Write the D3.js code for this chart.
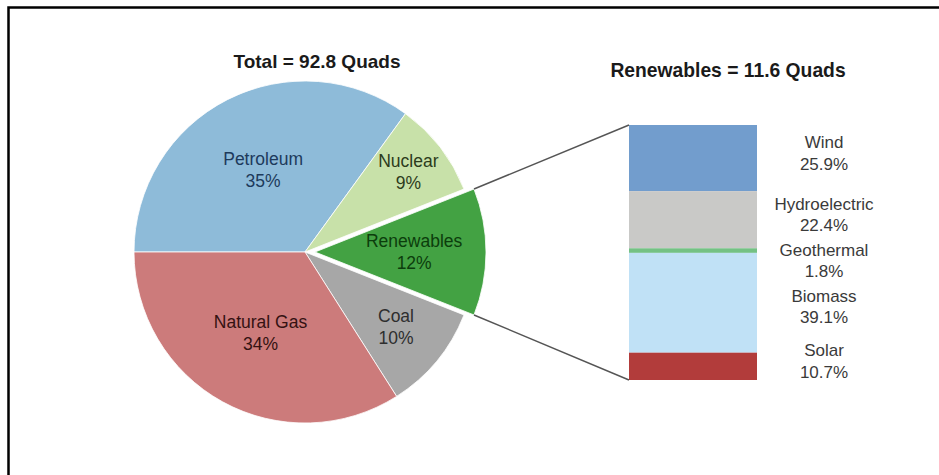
<!DOCTYPE html>
<html>
<head>
<meta charset="utf-8">
<script src="https://cdn.jsdelivr.net/npm/d3@7"></script>
<style>
  html, body { margin: 0; padding: 0; background: #fff; }
  svg { display: block; }
  text { font-family: "Liberation Sans", Arial, sans-serif; }
</style>
</head>
<body>
<svg id="chart" width="939" height="475"></svg>
<script>
// Primary energy consumption by source (share of total, %)
const sources = ["Petroleum", "Nuclear", "Renewables", "Coal", "Natural Gas"];
const sourceShares = [35, 9, 12, 10, 34];
const totalQuads = 92.8;

// Breakdown of the renewables slice (share of renewables, %)
const renewables = ["Wind", "Hydroelectric", "Geothermal", "Biomass", "Solar"];
const renewableShares = [25.9, 22.4, 1.8, 39.1, 10.7];
const renewableQuads = 11.6;

const pieColors = {
  "Petroleum": "#8ebbd9",
  "Nuclear": "#c8e1a9",
  "Renewables": "#43a243",
  "Coal": "#a7a7a7",
  "Natural Gas": "#cc7b7b"
};
const pieTextColors = {
  "Petroleum": "#1d3a5c",
  "Nuclear": "#2c3b1c",
  "Renewables": "#0c3d0c",
  "Coal": "#2e2e2e",
  "Natural Gas": "#341212"
};
const barColors = {
  "Wind": "#729dcd",
  "Hydroelectric": "#c9c9c7",
  "Geothermal": "#74c184",
  "Biomass": "#c0e1f6",
  "Solar": "#b23c3b"
};

const svg = d3.select("#chart");

// Frame
svg.append("path")
  .attr("d", "M8.5,475V7.5H939")
  .attr("fill", "none")
  .attr("stroke", "#000")
  .attr("stroke-width", 2.5);

// ---- Pie ----
const cx = 305, cy = 252, radius = 171, explode = 10;
const pieData = sources.map((s, i) => ({ name: s, value: sourceShares[i] }));

const pie = d3.pie()
  .sort(null)
  .value(d => d.value)
  .startAngle(-Math.PI / 2)
  .endAngle(1.5 * Math.PI);

const arc = d3.arc().innerRadius(0).outerRadius(radius);
const arcs = pie(pieData);

function offsetOf(a) {
  if (a.data.name !== "Renewables") return [0, 0];
  const m = (a.startAngle + a.endAngle) / 2;
  return [explode * Math.sin(m), -explode * Math.cos(m)];
}

const pieG = svg.append("g").attr("transform", `translate(${cx},${cy})`);

pieG.selectAll("path.slice")
  .data(arcs)
  .join("path")
  .attr("class", "slice")
  .attr("transform", d => `translate(${offsetOf(d)})`)
  .attr("d", arc)
  .attr("fill", d => pieColors[d.data.name])
  .attr("stroke", "#fff")
  .attr("stroke-width", 0.8);

// Labels: pushed out from the centre until the two-line block fits between the wedge edges
const labelFont = 17.5, lineGap = 22;
pieG.selectAll("text.slice-label")
  .data(arcs)
  .join("text")
  .attr("class", "slice-label")
  .attr("text-anchor", "middle")
  .attr("font-size", labelFont)
  .attr("fill", d => pieTextColors[d.data.name])
  .each(function (d) {
    const m = (d.startAngle + d.endAngle) / 2;
    const half = (d.endAngle - d.startAngle) / 2;
    const rho = Math.max(0.54 * radius, 36.5 / Math.sin(Math.min(half, Math.PI / 2)));
    const [ox, oy] = offsetOf(d);
    const x = ox + rho * Math.sin(m);
    const y = oy - rho * Math.cos(m);
    const t = d3.select(this);
    t.append("tspan").attr("x", x).attr("y", y - 5).text(d.data.name);
    t.append("tspan").attr("x", x).attr("y", y - 5 + lineGap).text(d.data.value + "%");
  });

svg.append("text")
  .attr("x", 317).attr("y", 68)
  .attr("text-anchor", "middle")
  .attr("font-size", 19)
  .attr("font-weight", "bold")
  .attr("fill", "#1a1a1a")
  .text(`Total = ${totalQuads} Quads`);

// ---- Renewables stacked bar ----
const barX = 629, barW = 128, barTop = 125, barBottom = 380;
let acc = 0;
const barData = renewables.map((n, i) => {
  const d = { name: n, value: renewableShares[i], y0: acc, y1: acc + renewableShares[i] };
  acc += renewableShares[i];
  return d;
});
const y = d3.scaleLinear().domain([0, acc]).range([barTop, barBottom]);

svg.selectAll("rect.seg")
  .data(barData)
  .join("rect")
  .attr("class", "seg")
  .attr("x", barX)
  .attr("width", barW)
  .attr("y", d => y(d.y0))
  .attr("height", d => y(d.y1) - y(d.y0))
  .attr("fill", d => barColors[d.name]);

// Connector lines from the exploded slice to the bar
const ren = arcs.find(a => a.data.name === "Renewables");
const [rox, roy] = offsetOf(ren);
const pTop = [cx + rox + radius * Math.sin(ren.startAngle), cy + roy - radius * Math.cos(ren.startAngle)];
const pBot = [cx + rox + radius * Math.sin(ren.endAngle), cy + roy - radius * Math.cos(ren.endAngle)];
svg.append("path")
  .attr("d", `M${pTop}L${barX},${y(0)}M${pBot}L${barX},${y(acc)}`)
  .attr("fill", "none")
  .attr("stroke", "#555")
  .attr("stroke-width", 1.5);

// Bar labels: near their segment's middle, pushed downward where blocks would collide
const minSep = 46;
const centers = barData.map(d => (y(d.y0) + y(d.y1)) / 2 - 5);
for (let i = 1; i < centers.length; i++) {
  centers[i] = Math.max(centers[i], centers[i - 1] + minSep);
}

const barLabelX = 824;
svg.selectAll("text.bar-label")
  .data(barData)
  .join("text")
  .attr("class", "bar-label")
  .attr("text-anchor", "middle")
  .attr("font-size", 17)
  .attr("fill", "#3a3a3a")
  .each(function (d, i) {
    const c = centers[i];
    const t = d3.select(this);
    t.append("tspan").attr("x", barLabelX).attr("y", c - 5).text(d.name);
    t.append("tspan").attr("x", barLabelX).attr("y", c - 5 + 21.5).text(d.value + "%");
  });

svg.append("text")
  .attr("x", 728).attr("y", 77)
  .attr("text-anchor", "middle")
  .attr("font-size", 19.3)
  .attr("font-weight", "bold")
  .attr("fill", "#1a1a1a")
  .text(`Renewables = ${renewableQuads} Quads`);
</script>
</body>
</html>
